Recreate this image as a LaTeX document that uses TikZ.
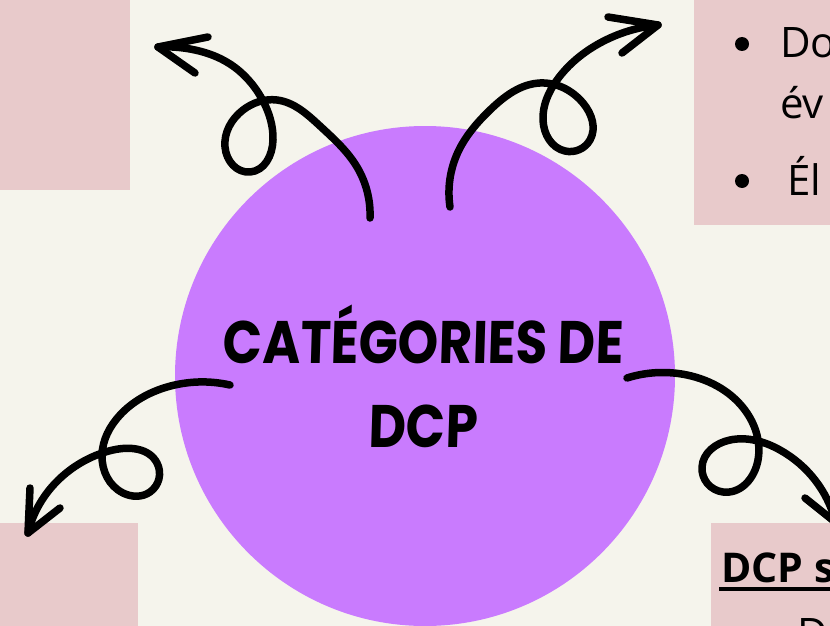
\documentclass[tikz,border=0pt]{standalone}
\usepackage{fontspec}
\setmainfont{Open Sans}
\newfontfamily\titlefont{Poppins}[FakeStretch=0.86,FakeSlant=0.03]
\usetikzlibrary{hobby}
\definecolor{bg}{HTML}{F5F4EC}
\definecolor{boxpink}{HTML}{E8CACB}
\definecolor{hubpurple}{HTML}{C97BFE}
\begin{document}
\begin{tikzpicture}[x=1pt,y=-1pt,
  curly/.style={line width=7.5pt, line cap=round, line join=round, use Hobby shortcut},
  barb/.style={line width=7.5pt, line cap=round, line join=round},
  card/.style={fill=boxpink},
  body/.style={font=\fontsize{42}{50}\selectfont, inner sep=0pt, anchor=base west},
  bul/.style={circle, fill=black, minimum size=14pt, inner sep=0pt}]
\useasboundingbox (0,0) rectangle (830,626);
\clip (0,0) rectangle (830,626);
\fill[bg] (0,0) rectangle (830,626);
% pink cards
\fill[card] (0,0) rectangle (130,190);
\fill[card] (694,0) rectangle (840,225);
\fill[card] (0,523) rectangle (138,640);
\fill[card] (711,523) rectangle (840,640);
% hub
\node[circle, fill=hubpurple, minimum size=500pt, inner sep=0pt] (hub) at (425,376) {};
% arrows
\draw[curly] (370,218) .. (357,167) .. (320,126) .. (277,100) .. (243,110) .. (225,147) .. (250,172) .. (273,140) .. (262,99) .. (230,64) .. (190,49) .. (158,47);
\draw[barb] (208,37) -- (158,47) -- (195,73);
\draw[curly] (450,207) .. (458,152) .. (490,110) .. (540,83) .. (583,103) .. (590,140) .. (565,151) .. (543,120) .. (557,80) .. (600,43) .. (658,25);
\draw[barb] (608,17) -- (658,25) -- (622,53);
\draw[curly] (230,385) .. (167,387) .. (120,415) .. (102,455) .. (123,493) .. (150,492) .. (157,463) .. (113,450) .. (70,470) .. (42,500) .. (28,533);
\draw[barb] (30,488) -- (28,533) -- (60,508);
\draw[curly] (627,378) .. (687,375) .. (747,413) .. (758,460) .. (723,492) .. (702,467) .. (730,440) .. (780,450) .. (815,480) .. (835,520);
\draw[barb] (805,498) -- (835,522) -- (845,478);
% title
\node[align=center, font=\titlefont\bfseries\fontsize{60}{84}\selectfont, inner sep=0pt] (title) at (423,376) {CATÉGORIES DE\\DCP};
% top-right card text
\node[bul] (b1) at (742,44) {};
\node[body] (t1) at (780,58) {Do};
\node[body] (t2) at (780,118) {év};
\node[bul] (b2) at (742,181) {};
\node[body] (t3) at (787,195) {Él};
% bottom-right card text
\node[body, font=\bfseries\fontsize{41}{50}\selectfont] (t4) at (721,582) {DCP s};
\draw[line width=3.5pt] (719,589) -- (835,589);
\node[body] (t5) at (797,648) {D};
\end{tikzpicture}
\end{document}
